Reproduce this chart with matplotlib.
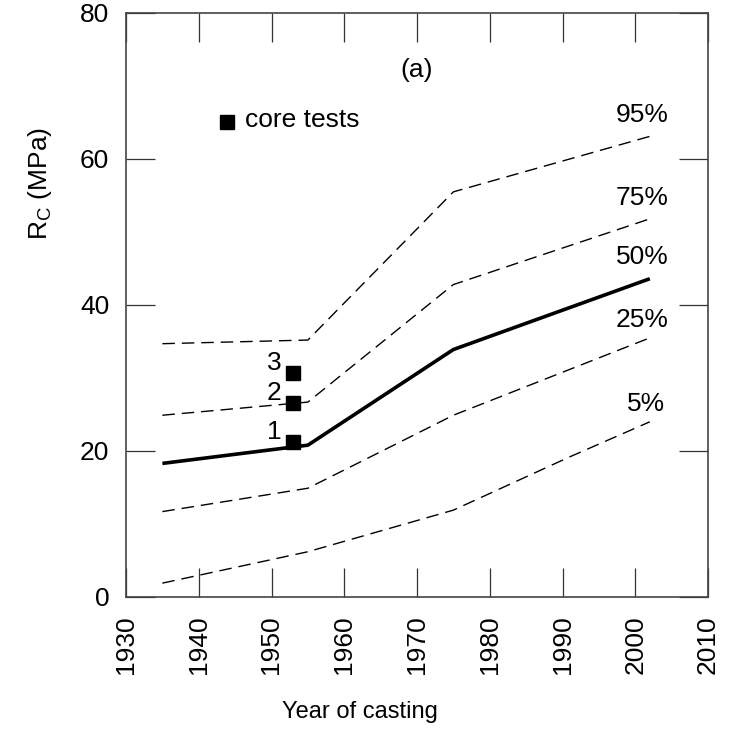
import numpy as np
import matplotlib
matplotlib.use("Agg")
import matplotlib.pyplot as plt

plt.rcParams['font.family'] = ['Liberation Sans', 'DejaVu Sans']
plt.rcParams['mathtext.fontset'] = 'custom'
plt.rcParams['mathtext.rm'] = 'Liberation Sans'

# percentile curves of Rc vs year of casting
years = [1935, 1955, 1975, 2002]
p95 = [34.7, 35.2, 55.5, 63.1]
p75 = [24.9, 26.7, 42.8, 51.8]
p50 = [18.3, 20.8, 33.9, 43.6]
p25 = [11.7, 14.9, 24.9, 35.5]
years_5 = [1935, 1955, 1975, 1991, 2002]
p5 = [1.9, 6.2, 11.9, 19.2, 24.0]

# core tests
core_year = [1953, 1953, 1953]
core_rc = [21.3, 26.6, 30.7]
core_labels = ["1", "2", "3"]

pct_labels = ["95%", "75%", "50%", "25%", "5%"]
pct_pos = [(2001, 66.0), (2001, 54.6), (2001, 46.6), (2001, 37.9), (2001.5, 26.5)]

fig = plt.figure(figsize=(7.33, 7.30), dpi=100)
ax = fig.add_axes([126/733, 1 - 597/730, (708-126)/733, (597-13)/730])

dash = (0, (9, 5))
ax.plot(years, p95, color='black', lw=1.0, linestyle=dash)
ax.plot(years, p75, color='black', lw=1.0, linestyle=dash)
ax.plot(years, p50, color='black', lw=2.6, solid_capstyle='butt')
ax.plot(years, p25, color='black', lw=1.0, linestyle=dash)
ax.plot(years_5, p5, color='black', lw=1.0, linestyle=dash)

ax.plot(core_year, core_rc, 's', color='black', markersize=10, linestyle='none')
for x, y, t in zip(core_year, core_rc, core_labels):
    ax.text(x - 1.6, y + 1.3, t, fontsize=19, ha='right', va='center')

for t, (x, y) in zip(pct_labels, pct_pos):
    ax.text(x, y, t, fontsize=19, ha='center', va='center')

# legend-like marker
ax.plot([1943.9], [65.1], 's', color='black', markersize=10)
ax.text(1946.3, 65.3, "core tests", fontsize=19, ha='left', va='center')
ax.text(1970, 72.2, "(a)", fontsize=19, ha='center', va='center')

ax.set_xlim(1930, 2010)
ax.set_ylim(0, 80)
ax.set_xticks(np.arange(1930, 2011, 10))
ax.set_yticks(np.arange(0, 81, 20))
ax.tick_params(direction='in', length=21, width=0.9, top=True, right=True,
               labelsize=19, colors='#333333', labelcolor='black')
ax.tick_params(axis='y', pad=12)
ax.tick_params(axis='x', pad=13)
plt.setp(ax.get_xticklabels(), rotation=90)
for s in ax.spines.values():
    s.set_linewidth(1.2)
    s.set_color('#444444')

ax.set_xlabel("Year of casting", fontsize=17)
ax.set_ylabel(r"R$_\mathrm{C}$ (MPa)", fontsize=19)
ax.xaxis.set_label_coords((360 - 126) / 582, -(701 - 597) / 584)
ax.yaxis.set_label_coords(-(126 - 54) / 582, (597 - 184) / 584)

fig.savefig("out.png", dpi=100)
